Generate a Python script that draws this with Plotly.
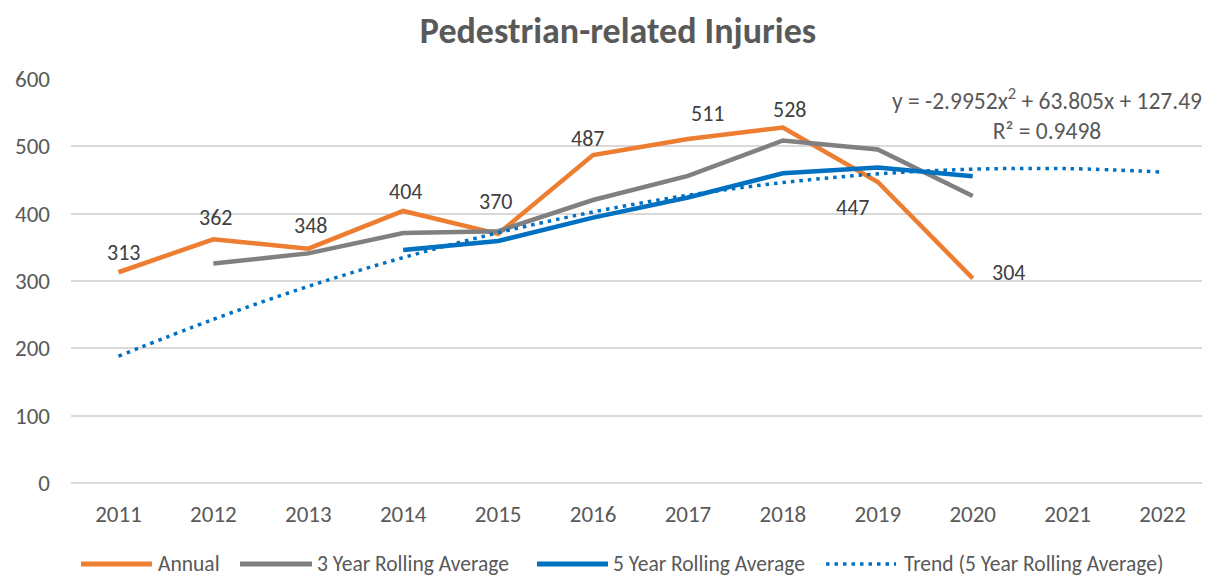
import plotly.graph_objects as go

years = ["2011", "2012", "2013", "2014", "2015", "2016", "2017", "2018", "2019", "2020", "2021", "2022"]
annual = [313, 362, 348, 404, 370, 487, 511, 528, 447, 304]
roll3_years = ["2012", "2013", "2014", "2015", "2016", "2017", "2018", "2019", "2020"]
roll3 = [326, 341, 371.3, 374, 420.3, 456, 508.7, 495.3, 426.3]
roll5_years = ["2014", "2015", "2016", "2017", "2018", "2019", "2020"]
roll5 = [346, 359.4, 394.2, 424, 460, 468.6, 455.4]
trend = [188.3, 243.1, 292.0, 334.8, 371.6, 402.5, 427.4, 446.2, 459.1, 466.0, 466.9, 461.8]

series_names = ["Annual", "3 Year Rolling Average", "5 Year Rolling Average", "Trend (5 Year Rolling Average)"]
series_colors = ["#ED7D31", "#808080", "#0070C0", "#0070C0"]

# label offsets (pixels) for the Annual data labels
label_dx = [5, 2, 2, 2, -3, -6, 20, 7, -25, 36]
label_dy = [20, 22, 23, 19, 32, 17, 25, 18, -25, 6]

FONT = "Carlito, Calibri, Lato, sans-serif"
TXT = "#595959"
TREND_DASH = "3.5px,5px"

# page has an 8px body margin -> figure is 8px smaller and coordinates offset
OFF = 8
W, H = 1210 - OFF, 577 - OFF
L, R, T, B = 71 - OFF, 0, 79 - OFF, 94
PW, PH = W - L - R, H - T - B


def px_x(px):
    return (px - OFF - L) / PW


def px_y(py):
    return (H - B - (py - OFF)) / PH


fig = go.Figure()
fig.add_trace(go.Scatter(
    x=years[:len(annual)], y=annual, name=series_names[0], mode="lines",
    line=dict(color=series_colors[0], width=4.5),
))
fig.add_trace(go.Scatter(
    x=roll3_years, y=roll3, name=series_names[1], mode="lines",
    line=dict(color=series_colors[1], width=4.5),
))
fig.add_trace(go.Scatter(
    x=roll5_years, y=roll5, name=series_names[2], mode="lines",
    line=dict(color=series_colors[2], width=4.5),
))
fig.add_trace(go.Scatter(
    x=years, y=trend, name=series_names[3], mode="lines",
    line=dict(color=series_colors[3], width=3.5, dash=TREND_DASH, shape="spline"),
))

for i, v in enumerate(annual):
    fig.add_annotation(x=i, y=v, xref="x", yref="y", text=str(v),
                       showarrow=False, xanchor="center", yanchor="middle",
                       xshift=label_dx[i], yshift=label_dy[i],
                       font=dict(family=FONT, size=22, color="#404040"))

fig.add_annotation(
    xref="paper", yref="paper", x=px_x(1047), y=px_y(114),
    text="y = -2.9952x<sup>2</sup> + 63.805x + 127.49<br>R² = 0.9498",
    showarrow=False, align="center", xanchor="center", yanchor="middle",
    font=dict(family=FONT, size=23.5, color=TXT),
)

# manual legend (long line samples like the original)
leg_y = px_y(564)
leg_lines = [(81, 152), (240, 312), (537, 608), (826, 896)]
leg_text_x = [156, 315, 611, 902]
for i, name in enumerate(series_names):
    x0, x1 = leg_lines[i]
    fig.add_shape(type="line", xref="paper", yref="paper",
                  x0=px_x(x0), x1=px_x(x1), y0=leg_y, y1=leg_y,
                  line=dict(color=series_colors[i], width=3.5 if i == 3 else 5,
                            dash=TREND_DASH if i == 3 else "solid"))
    fig.add_annotation(xref="paper", yref="paper", x=px_x(leg_text_x[i]), y=leg_y,
                       text=name, showarrow=False, xanchor="left", yanchor="middle",
                       font=dict(family=FONT, size=21.5, color=TXT))

fig.update_layout(
    width=W, height=H,
    margin=dict(l=L, r=R, t=T, b=B, autoexpand=False),
    paper_bgcolor="white", plot_bgcolor="white",
    font=dict(family=FONT, size=22, color=TXT),
    title=dict(text="<b>Pedestrian-related Injuries</b>", xref="paper", x=px_x(618), xanchor="center",
               yref="container", y=1 - (30 - OFF) / H, yanchor="middle",
               font=dict(family=FONT, size=36, color=TXT)),
    showlegend=False,
    xaxis=dict(type="category", categoryorder="array", categoryarray=years,
               showgrid=False, showline=False, ticks="", ticklabelstandoff=15,
               automargin=False,
               tickfont=dict(size=23, color=TXT), range=[-0.5, 11.5]),
    yaxis=dict(range=[0, 600], dtick=100, showgrid=True, gridcolor="#D9D9D9", gridwidth=1.5,
               zeroline=True, zerolinecolor="#D9D9D9", zerolinewidth=1.5,
               showline=False, ticks="", ticklabelstandoff=20, automargin=False,
               tickfont=dict(size=23, color=TXT)),
)

fig.write_html("out.html")
